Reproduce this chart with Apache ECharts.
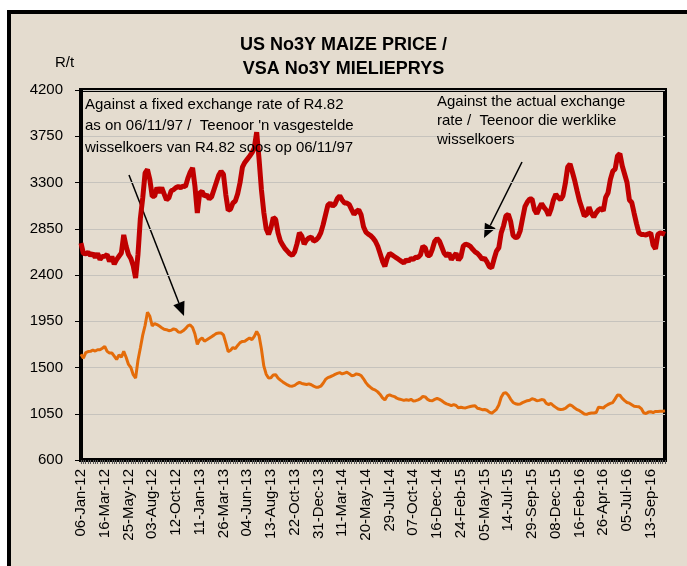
<!DOCTYPE html>
<html>
<head>
<meta charset="utf-8">
<script src="https://cdn.jsdelivr.net/npm/echarts@6/dist/echarts.min.js"></script>
<style>
  html, body { margin: 0; padding: 0; background: #fff; overflow: hidden; }
  #frame {
    position: absolute; left: 7px; top: 10px;
    width: 700px; height: 600px;
    border: 4px solid #000;
    background: #e4dccf;
  }
  #main { position: absolute; left: 0; top: 0; width: 687px; height: 566px; }
</style>
</head>
<body>
<div id="frame"></div>
<div id="main"></div>
<script>
// weekly prices, R/t
const tickLabels = ['06-Jan-12', '16-Mar-12', '25-May-12', '03-Aug-12', '12-Oct-12', '11-Jan-13',
  '26-Mar-13', '04-Jun-13', '13-Aug-13', '22-Oct-13', '31-Dec-13', '11-Mar-14', '20-May-14',
  '29-Jul-14', '07-Oct-14', '16-Dec-14', '24-Feb-15', '05-May-15', '14-Jul-15', '29-Sep-15',
  '08-Dec-15', '16-Feb-16', '26-Apr-16', '05-Jul-16', '13-Sep-16'];

// against the actual exchange rate
const actualRate = [2710,2610,2605,2620,2590,2610,2570,2610,2550,2580,
  2582,2598,2533,2580,2505,2549,2582,2614,2790,2680,
  2600,2560,2490,2371,2600,2950,3150,3393,3426,3328,
  3166,3166,3250,3200,3250,3190,3130,3150,3220,3230,
  3250,3260,3250,3265,3260,3340,3400,3442,3263,3004,
  3198,3215,3166,3180,3140,3160,3230,3300,3370,3410,
  3380,3180,3030,3040,3101,3120,3190,3300,3450,3495,
  3525,3555,3588,3636,3790,3530,3230,3010,2850,2795,
  2860,2960,2940,2810,2730,2690,2655,2630,2605,2590,
  2625,2705,2810,2780,2700,2740,2760,2770,2730,2740,
  2765,2810,2890,2985,3080,3100,3069,3090,3145,3170,
  3130,3101,3100,3085,3036,2990,3017,3034,2985,2870,
  2818,2798,2783,2760,2728,2680,2610,2535,2484,2565,
  2610,2595,2580,2565,2549,2533,2518,2547,2535,2560,
  2553,2573,2571,2596,2680,2665,2590,2590,2650,2728,
  2755,2730,2670,2610,2585,2614,2549,2582,2610,2545,
  2575,2680,2700,2693,2678,2650,2625,2610,2585,2552,
  2564,2528,2480,2470,2555,2632,2665,2810,2880,2975,
  2990,2920,2785,2765,2770,2830,2950,3065,3110,3140,
  3140,3035,2995,3050,3095,3058,3030,2980,3040,3130,
  3185,3155,3134,3170,3290,3450,3480,3400,3315,3215,
  3120,3050,2975,2990,3060,3000,2965,3005,3034,3048,
  3025,3155,3200,3330,3410,3430,3560,3580,3460,3380,
  3300,3130,3105,3000,2900,2810,2795,2793,2790,2800,
  2809,2690,2655,2795,2809,2805,2795];

// against a fixed exchange rate of R4.82
const fixedRate = [1630,1590,1645,1655,1657,1670,1660,1673,1673,1688,
  1705,1657,1641,1641,1610,1578,1622,1600,1657,1600,
  1530,1500,1430,1397,1570,1690,1815,1910,2037,1998,
  1905,1928,1918,1903,1887,1872,1868,1858,1862,1876,
  1868,1845,1842,1857,1878,1905,1914,1890,1825,1725,
  1771,1787,1756,1770,1785,1800,1815,1831,1836,1836,
  1818,1740,1655,1668,1694,1684,1715,1742,1754,1756,
  1772,1787,1771,1803,1850,1808,1680,1515,1435,1397,
  1400,1428,1430,1397,1377,1360,1345,1330,1319,1318,
  1326,1343,1355,1345,1340,1335,1341,1332,1319,1308,
  1308,1318,1347,1384,1402,1410,1420,1433,1443,1450,
  1437,1446,1454,1440,1420,1425,1438,1432,1422,1390,
  1353,1325,1306,1289,1280,1263,1238,1205,1185,1223,
  1233,1224,1217,1202,1193,1187,1180,1186,1181,1190,
  1175,1177,1185,1197,1218,1214,1190,1178,1177,1190,
  1200,1190,1176,1158,1146,1138,1128,1138,1130,1108,
  1113,1108,1107,1114,1120,1126,1128,1104,1098,1090,
  1091,1084,1065,1055,1073,1093,1135,1210,1250,1254,
  1230,1190,1160,1147,1142,1145,1158,1168,1177,1182,
  1196,1190,1176,1180,1188,1185,1150,1140,1150,1128,
  1112,1096,1091,1094,1102,1122,1137,1125,1105,1090,
  1080,1065,1048,1044,1053,1058,1057,1062,1114,1110,
  1106,1126,1140,1150,1159,1195,1232,1230,1200,1178,
  1160,1153,1138,1123,1120,1118,1100,1060,1052,1066,
  1069,1062,1072,1073,1075,1075,1078];

// one category per week, a date label on every 10th week
const weeks = actualRate.map((v, i) => i);

const FONT = "'Liberation Sans', Arial, sans-serif";

// arrow drawn as a line plus a filled head
function arrow(x1, y1, x2, y2) {
  let ang = Math.atan2(y2 - y1, x2 - x1);
  let len = 14, half = 6;
  let bx = x2 - len * Math.cos(ang), by = y2 - len * Math.sin(ang);
  let px = -Math.sin(ang) * half, py = Math.cos(ang) * half;
  return [
    { type: 'line', shape: { x1: x1, y1: y1, x2: bx, y2: by }, style: { stroke: '#000', lineWidth: 1.5 } },
    { type: 'polygon', shape: { points: [[x2, y2], [bx + px, by + py], [bx - px, by - py]] }, style: { fill: '#000' } }
  ];
}

let myChart = echarts.init(document.getElementById('main'));

myChart.setOption({
  backgroundColor: 'transparent',
  animation: false,
  title: {
    text: 'US No3Y MAIZE PRICE /\nVSA No3Y MIELIEPRYS',
    left: 'center',
    top: 28,
    textStyle: {
      fontFamily: FONT,
      fontWeight: 'bold',
      fontSize: 18,
      lineHeight: 24,
      color: '#000'
    }
  },
  grid: {
    left: 81,
    right: 22,
    top: 90,
    bottom: 106,
    show: true,
    borderColor: '#000',
    borderWidth: 4,
    backgroundColor: 'transparent'
  },
  xAxis: {
    type: 'category',
    boundaryGap: false,
    data: weeks,
    axisLine: { lineStyle: { color: '#000', width: 4 } },
    axisTick: { show: true, interval: 0, length: 4, lineStyle: { color: '#555', width: 1 } },
    axisLabel: {
      interval: 9,
      rotate: 90,
      margin: 9,
      fontFamily: FONT,
      fontSize: 15,
      color: '#000',
      formatter: (v, i) => tickLabels[Math.round(i / 10)] || ''
    },
    splitLine: { show: false }
  },
  yAxis: {
    type: 'value',
    min: 600,
    max: 4200,
    interval: 450,
    axisLine: { show: true, lineStyle: { color: '#000', width: 4 } },
    axisTick: { show: true, length: 6, lineStyle: { color: '#000', width: 1 } },
    axisLabel: { margin: 18, fontFamily: FONT, fontSize: 15, color: '#000', formatter: v => String(v) },
    splitLine: { show: true, lineStyle: { color: '#c6c3bd', width: 1 } }
  },
  series: [
    {
      name: 'Fixed exchange rate',
      type: 'line',
      data: fixedRate,
      showSymbol: false,
      symbol: 'none',
      lineStyle: { color: '#e46c0a', width: 3 },
      z: 3
    },
    {
      name: 'Actual exchange rate',
      type: 'line',
      data: actualRate,
      showSymbol: false,
      symbol: 'none',
      lineStyle: { color: '#c00000', width: 5 },
      z: 4
    }
  ],
  graphic: [
    { type: 'text', left: 55, top: 55, style: { text: 'R/t', font: '15px ' + FONT, fill: '#000' } },
    {
      type: 'text', left: 85, top: 94,
      style: {
        text: "Against a fixed exchange rate of R4.82\nas on 06/11/97 /  Teenoor 'n vasgestelde\nwisselkoers van R4.82 soos op 06/11/97",
        font: '15px ' + FONT, fill: '#000', lineHeight: 21.5
      },
      z: 10
    },
    {
      type: 'text', left: 437, top: 92,
      style: {
        text: 'Against the actual exchange\nrate /  Teenoor die werklike\nwisselkoers',
        font: '15px ' + FONT, fill: '#000', lineHeight: 19
      },
      z: 10
    },
    { type: 'group', children: arrow(129, 175, 184, 316), z: 10 },
    { type: 'group', children: arrow(522, 162, 484, 238), z: 10 }
  ]
});
</script>
</body>
</html>
